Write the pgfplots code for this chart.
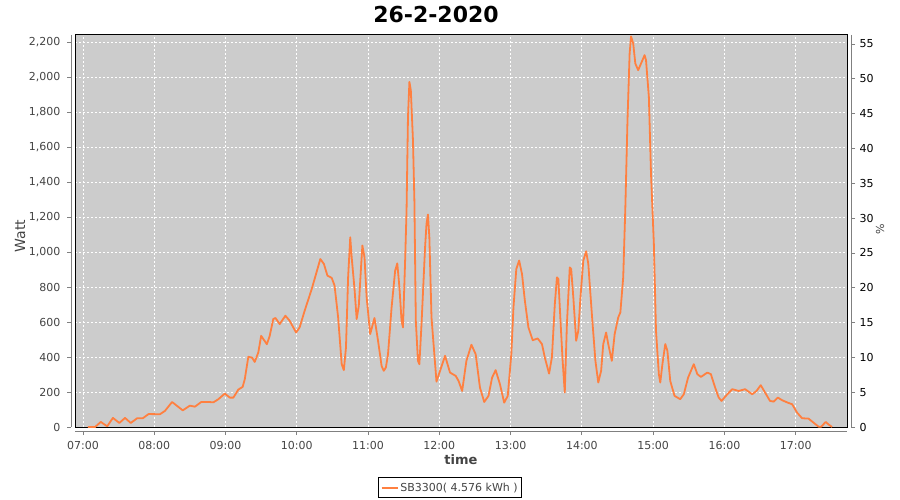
\documentclass[border=0pt]{standalone}
\usepackage{pgfplots}
\pgfplotsset{compat=1.18}
\usepackage{fontspec}
\setmainfont{DejaVu Sans}
\definecolor{plotbg}{RGB}{204,204,204}
\definecolor{series}{RGB}{255,128,64}
\definecolor{ticktext}{RGB}{68,68,68}
\definecolor{axisgray}{RGB}{128,128,128}
\begin{document}
\begin{tikzpicture}
\path[use as bounding box] (0,0) rectangle (900pt,-500pt);
\begin{axis}[
  at={(75pt,-427pt)}, anchor=south west, scale only axis,
  width=772pt, height=392pt,
  xmin=6.888, xmax=17.72, ymin=0, ymax=2240,
  axis background/.style={fill=plotbg},
  axis line style={black, line width=1pt},
  grid=major,
  major grid style={white, dash pattern=on 2pt off 2pt, line width=0.8pt},
  xtick={7,8,9,10,11,12,13,14,15,16,17},
  xticklabels={07:00,08:00,09:00,10:00,11:00,12:00,13:00,14:00,15:00,16:00,17:00},
  ytick={0,200,...,2200},
  tick pos=left, tick align=outside, major tick length=4pt,
  xtick style={axisgray, line width=0.8pt, yshift=-4pt},
  ytick style={axisgray, line width=0.8pt, xshift=-4pt},
  /pgf/number format/assume math mode=true,
  /pgf/number format/1000 sep={,},
  ticklabel style={font=\fontsize{11}{13}\selectfont, text=ticktext},
  xticklabel style={yshift=-7pt},
  yticklabel style={xshift=-7pt},
  legend style={at={(0.486,-0.155)}, anchor=center, draw=black, line width=0.8pt,
    font=\fontsize{11}{13}\selectfont, text=ticktext, inner xsep=2pt, inner ysep=3pt, fill=white},
  legend image code/.code={\draw[#1, line width=1.8pt] (0pt,0pt) -- (16pt,0pt);},
]
\addplot[series, line width=1.8pt, line join=round] coordinates {
(7.07,0) (7.17,0) (7.25,29) (7.34,4) (7.42,52) (7.51,23) (7.59,52) (7.67,23)
(7.76,50) (7.84,50) (7.92,74) (8.08,73) (8.15,92) (8.25,143) (8.40,95) (8.50,122)
(8.57,116) (8.66,143) (8.76,143) (8.83,141) (8.90,159) (8.99,191) (9.06,168) (9.11,168)
(9.18,214) (9.24,229) (9.27,273) (9.32,401) (9.37,397) (9.41,372) (9.46,426) (9.50,521)
(9.58,473) (9.62,521) (9.67,617) (9.70,623) (9.76,588) (9.84,636) (9.90,607) (9.99,540)
(10.04,569) (10.11,664) (10.21,789) (10.29,903) (10.33,960) (10.38,932) (10.43,865)
(10.49,852) (10.53,808) (10.58,626) (10.63,359) (10.66,325) (10.69,454) (10.72,855)
(10.75,1084) (10.77,970) (10.81,789) (10.84,617) (10.87,693) (10.90,903) (10.92,1037)
(10.95,970) (10.98,741) (11.03,531) (11.09,623) (11.14,493) (11.19,349) (11.22,321)
(11.25,340) (11.28,416) (11.33,683) (11.38,893) (11.41,935) (11.44,798) (11.47,607)
(11.49,569) (11.52,951) (11.54,1237) (11.56,1771) (11.58,1972) (11.60,1924) (11.63,1638)
(11.65,1294) (11.67,607) (11.70,378) (11.72,359) (11.75,588) (11.80,1027) (11.82,1161)
(11.84,1214) (11.86,1084) (11.89,626) (11.93,416) (11.96,259) (12.01,321) (12.08,407)
(12.15,311) (12.23,292) (12.27,263) (12.32,206) (12.38,378) (12.45,470) (12.51,416)
(12.57,225) (12.63,143) (12.69,178) (12.74,282) (12.79,325) (12.85,245) (12.91,139)
(12.96,178) (13.01,416) (13.04,683) (13.08,903) (13.12,951) (13.16,874) (13.20,722)
(13.25,569) (13.31,496) (13.38,506) (13.44,474) (13.48,397) (13.54,305) (13.58,400)
(13.62,700) (13.65,855) (13.67,846) (13.70,607) (13.73,378) (13.76,197) (13.79,588)
(13.83,912) (13.85,903) (13.88,741) (13.92,493) (13.95,550) (13.98,741) (14.02,951)
(14.06,1004) (14.09,932) (14.14,645) (14.19,378) (14.23,254) (14.27,321) (14.30,474)
(14.34,540) (14.37,474) (14.42,378) (14.46,531) (14.51,626) (14.54,655) (14.58,855)
(14.61,1256) (14.64,1752) (14.67,2134) (14.69,2232) (14.72,2192) (14.75,2077) (14.79,2039)
(14.83,2077) (14.88,2125) (14.90,2096) (14.94,1886) (14.97,1447) (15.01,1046) (15.04,550)
(15.08,302) (15.10,254) (15.13,359) (15.17,474) (15.20,435) (15.24,263) (15.30,178)
(15.38,159) (15.43,187) (15.49,282) (15.57,359) (15.62,302) (15.67,286) (15.76,311)
(15.81,302) (15.87,225) (15.92,168) (15.96,149) (16.04,187) (16.11,216) (16.20,206)
(16.29,216) (16.39,187) (16.45,206) (16.51,239) (16.57,197) (16.64,149) (16.69,145)
(16.75,168) (16.81,153) (16.89,139) (16.95,130) (17.02,82) (17.09,50) (17.18,48)
(17.25,25) (17.32,2) (17.36,2) (17.42,29) (17.46,15) (17.51,0)
};
\addlegendentry{SB3300( 4.576 kWh )}
\end{axis}
\begin{axis}[
  at={(75pt,-427pt)}, anchor=south west, scale only axis,
  width=772pt, height=392pt,
  xmin=6.888, xmax=17.72, ymin=0, ymax=56.3,
  axis x line=none, axis y line*=right,
  axis line style={draw=none},
  ytick={0,5,...,55},
  tick align=outside, major tick length=4pt,
  ytick style={axisgray, line width=0.8pt, xshift=4pt},
  /pgf/number format/assume math mode=true,
  yticklabel style={font=\fontsize{11}{13}\selectfont, text=black, xshift=5pt},
]
\end{axis}
\draw[axisgray, line width=0.8pt] (71pt,-35pt) -- (71pt,-427pt);
\draw[axisgray, line width=0.8pt] (75pt,-431pt) -- (847pt,-431pt);
\draw[axisgray, line width=0.8pt] (851pt,-35pt) -- (851pt,-427pt);
\node[font=\bfseries\fontsize{22}{26}\selectfont] at (436pt,-14pt) {26-2-2020};
\node[rotate=90, font=\fontsize{14}{16}\selectfont, text=ticktext] at (20pt,-236pt) {Watt};
\node[font=\bfseries\fontsize{13}{15}\selectfont, text=ticktext] at (461pt,-460pt) {time};
\node[rotate=90, font=\fontsize{11}{13}\selectfont, text=ticktext] at (880pt,-229pt) {\%};
\end{tikzpicture}
\end{document}
